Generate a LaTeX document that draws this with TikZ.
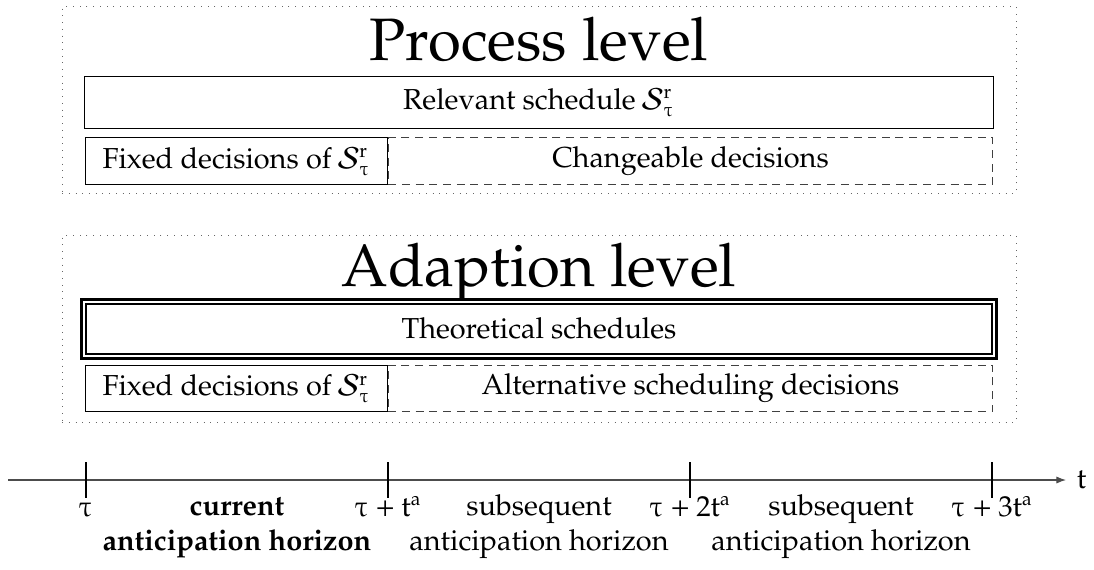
\documentclass[tikz,border=0pt,12pt]{standalone}
\usepackage[T1]{fontenc}
\IfFileExists{pxfonts.sty}{\usepackage{pxfonts}\newcommand\tauu{\tauup}}{\usepackage{mathpazo}\newcommand\tauu{\tau}}
\usetikzlibrary{arrows.meta, positioning}

\begin{document}
\begin{tikzpicture}[x=0.0146cm, y=-0.0146cm,
      frm/.style={draw=black!60, dash pattern=on 0.4pt off 2.4pt, minimum width=13.93cm,
                  minimum height=2.72cm, inner sep=0pt},
      ttl/.style={font=\fontsize{24.88}{30}\selectfont, anchor=base, inner sep=0pt},
      box/.style={draw, inner sep=0pt, minimum width=4.42cm, minimum height=0.68cm},
      chg/.style={draw=black!75, dash pattern=on 3.3pt off 2.4pt, inner sep=0pt,
                  minimum width=8.83cm, minimum height=0.68cm},
      dbl/.style={draw, double, line width=0.9pt, double distance=1.1pt, inner sep=0pt,
                  minimum width=13.29cm, minimum height=0.79cm},
      tk/.style={line width=0.8pt},
      ax/.style={-{Latex[length=4pt, width=3pt]}, draw=black!70, line width=0.5pt},
      lbl/.style={anchor=base, inner sep=0pt, align=center}]
  \useasboundingbox (0,0) rectangle (1094,569);
  % process level
  \node[frm] (pfrm) at (539,100) {};
  \node[ttl] (ptl) at (539,60) {Process level};
  \node[box, minimum width=13.26cm, minimum height=0.76cm] (rel) at (539,102) {Relevant schedule $\mathcal{S}^{\mathrm{r}}_{\tauu}$};
  \node[chg] (chgp) at (690.5,161) {Changeable decisions};
  \node[box] (fixp) at (236.5,161) {Fixed decisions of $\mathcal{S}^{\mathrm{r}}_{\tauu}$};
  % adaption level
  \node[frm] (afrm) at (539,329) {};
  \node[ttl] (atl) at (539,286) {Adaption level};
  \node[dbl] (theo) at (539,329) {Theoretical schedules};
  \node[chg] (alt) at (690.5,388.5) {Alternative scheduling decisions};
  \node[box] (fixa) at (236.5,388.5) {Fixed decisions of $\mathcal{S}^{\mathrm{r}}_{\tauu}$};
  % time axis
  \coordinate (t0) at (8,480);
  \coordinate (tend) at (1066,480);
  \draw[ax] (t0) -- (tend);
  \node[right=1.5mm of tend, inner sep=0pt] (tlab) {$\mathrm{t}$};
  \foreach \x/\lab [count=\i] in {86/{\tauu}, 388/{\tauu+\mathrm{t}^{\mathrm{a}}}, 690/{\tauu+2\mathrm{t}^{\mathrm{a}}}, 992/{\tauu+3\mathrm{t}^{\mathrm{a}}}} {
    \draw[tk] (\x,462) -- (\x,498);
    \node[lbl] (tk\i) at (\x,516) {$\lab$};
  }
  \node[lbl, font=\bfseries] (cur) at (237,550) {current\\anticipation horizon};
  \node[lbl] (sub1) at (539,550) {subsequent\\anticipation horizon};
  \node[lbl] (sub2) at (841,550) {subsequent\\anticipation horizon};
\end{tikzpicture}
\end{document}
